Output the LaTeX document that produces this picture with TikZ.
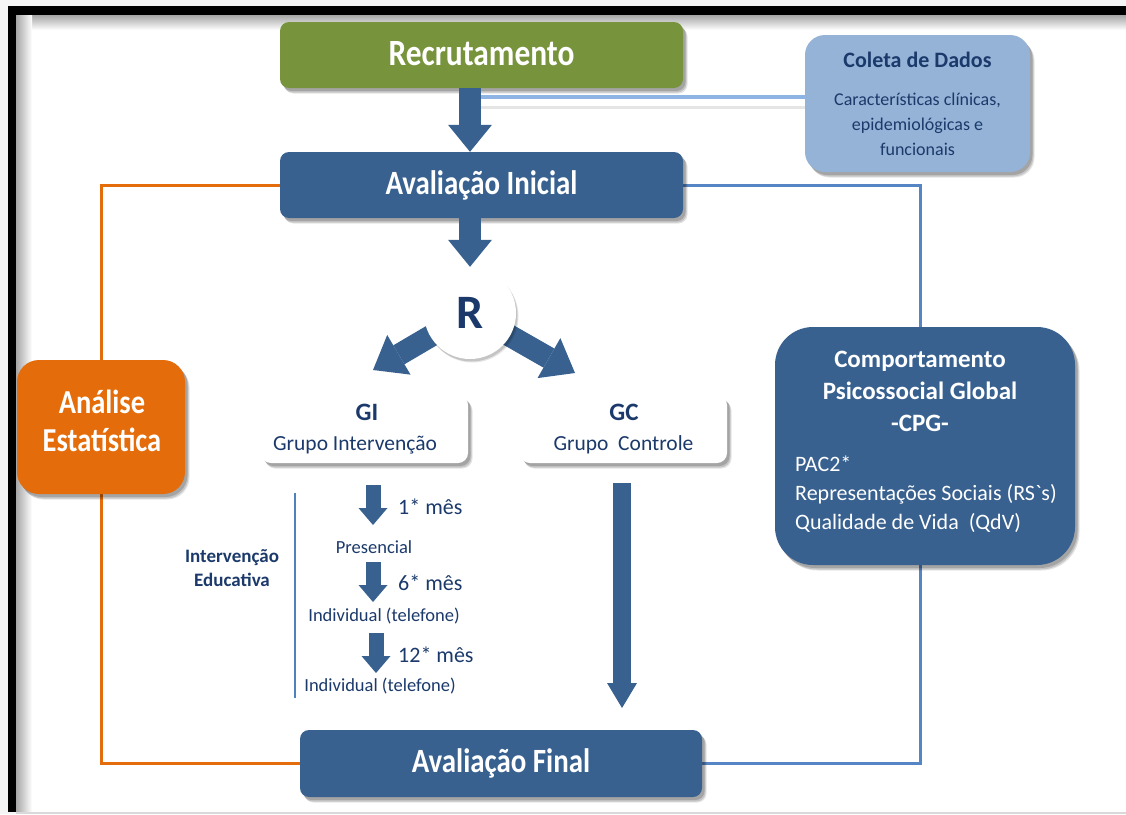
\documentclass[tikz,border=0pt]{standalone}
\usepackage{fontspec}
\setmainfont{Carlito}
\newfontfamily\titlefont{Carlito}[FakeStretch=0.85]
\usetikzlibrary{arrows.meta,shadows,calc}
\definecolor{green1}{HTML}{77933C}
\definecolor{dkblue}{HTML}{38618F}
\definecolor{ltblue}{HTML}{95B3D7}
\definecolor{orange1}{HTML}{E46C0A}
\definecolor{navy}{HTML}{1B3A6B}
\definecolor{lineblue}{HTML}{5585C5}
\definecolor{conblue}{HTML}{8EB4E3}
\definecolor{thinblue}{HTML}{4F81BD}
\pgfdeclarelayer{frame}
\pgfdeclarelayer{lines}
\pgfsetlayers{frame,lines,main}
\begin{document}
\begin{tikzpicture}[x=1pt,y=-1pt,
  softshadow/.style={drop shadow={shadow xshift=4.5pt, shadow yshift=-5.5pt, opacity=.10, fill=black},
                     drop shadow={shadow xshift=3.5pt, shadow yshift=-4.5pt, opacity=.14, fill=black},
                     drop shadow={shadow xshift=2.5pt, shadow yshift=-3pt, opacity=.16, fill=black}},
  boxbase/.style={inner sep=0pt, softshadow},
  darkbox/.style={boxbase, fill=dkblue, rounded corners=9pt, minimum width=403pt, minimum height=66pt, text=white, font=\titlefont\fontsize{34}{40}\selectfont\bfseries},
  blockarrow/.style={draw=dkblue, line width=22pt, -{Triangle[length=27pt, width=44pt, line width=0pt]}},
  diagarrow/.style={draw=dkblue, line width=22pt, -{Triangle[length=30pt, width=46pt, line width=0pt]}},
  smallarrow/.style={draw=dkblue, line width=15pt, -{Triangle[length=17pt, width=29pt, line width=0pt]}},
  gcarrow/.style={draw=dkblue, line width=18pt, -{Triangle[length=25pt, width=30pt, line width=0pt]}},
  lbl/.style={text=navy, inner sep=0pt, font=\fontsize{18.5}{22}\selectfont},
  mes/.style={text=navy, inner sep=0pt, font=\fontsize{22}{26}\selectfont},
  grp/.style={text=navy, inner sep=0pt, font=\fontsize{21.5}{26}\selectfont},
  grpt/.style={text=navy, inner sep=0pt, font=\fontsize{25}{30}\selectfont\bfseries},
]
\useasboundingbox (0,0) rectangle (1126,814);
\begin{pgfonlayer}{frame}
  \fill[gray!8] (0,0) rectangle (1126,814);
  \fill[white] (16,15) rectangle (1126,812);
  \shade[top color=gray!70, bottom color=white] (16,15) rectangle (1126,30);
  \shade[left color=gray!70, right color=white] (16,15) rectangle (32,812);
  \fill[black] (8,6) rectangle (1126,15);
  \fill[black] (8,6) rectangle (16,812);
  \fill[gray!30] (16,812) rectangle (1126,814);
\end{pgfonlayer}

% main boxes
\node[darkbox, fill=green1, font=\titlefont\fontsize{37}{42}\selectfont\bfseries] (rec) at (481.5,55) {\raisebox{3pt}{Recrutamento}};
\node[darkbox] (ini) at (481.5,185) {Avaliação Inicial};
\node[darkbox, minimum width=402pt, minimum height=67pt] (fin) at (501,763.5) {Avaliação Final};

\node[boxbase, fill=ltblue, rounded corners=20pt, minimum width=225pt, minimum height=137pt, text=navy, align=center, font=\fontsize{18}{25}\selectfont] (col) at (917.5,103.5)
  {{\fontsize{22}{25}\selectfont\bfseries Coleta de Dados}\\[13pt]Características clínicas,\\epidemiológicas e\\funcionais};

\node[boxbase, fill=orange1, rounded corners=22pt, minimum width=168pt, minimum height=134pt] (anl) at (101,427) {};
\node[text=white, align=center, inner sep=0pt, font=\titlefont\fontsize{33.5}{38}\selectfont\bfseries] (anlt) at (102,421) {Análise\\Estatística};

\node[boxbase, fill=dkblue, rounded corners=38pt, minimum width=300pt, minimum height=238pt] (cpg) at (925,446) {};
\node[text=white, align=center, inner sep=0pt, font=\fontsize{25}{32}\selectfont\bfseries] (cpgt) at (920,391) {Comportamento\\Psicossocial Global\\-CPG-};
\node[text=white, align=left, anchor=west, inner sep=0pt, font=\fontsize{22}{29}\selectfont] (cpgb) at (795,494) {PAC2*\\Representações\ Sociais (RS\textasciigrave s)\\Qualidade de Vida\ \ (QdV)};

\node[boxbase, fill=white, rounded corners=10pt, minimum width=207pt, minimum height=68pt] (gi) at (364.5,429) {};
\node[grpt] (git) at (367,412) {GI};
\node[grp] (gil) at (355,445) {Grupo Intervenção};
\node[boxbase, fill=white, rounded corners=10pt, minimum width=207pt, minimum height=68pt] (gc) at (623.5,429) {};
\node[grpt] (gct) at (624,412) {GC};
\node[grp] (gcl) at (623.5,445) {Grupo\ \ Controle};

% connectors behind
\coordinate (bx) at (920,0);
\coordinate (cj) at (481,97);
\begin{pgfonlayer}{lines}
  \draw[orange1, line width=3pt] (ini.west) -- (ini.west -| anl) -- (fin.west -| anl) -- (fin.west);
  \draw[lineblue, line width=3pt] (ini.east) -- (ini.east -| bx) -- (fin.east -| bx) -- (fin.east);
  \draw[gray!20, line width=3pt] ($(cj)+(0,10)$) -- ($(cj -| col.west)+(0,10)$);
  \draw[conblue, line width=4pt] (cj) -- (cj -| col.west);
\end{pgfonlayer}

% R and arrows
\coordinate (rc) at (470,313);
\coordinate (tipL) at (373,370);
\coordinate (tipR) at (575,373);
\draw[diagarrow] (rc) -- (tipL);
\draw[diagarrow] (rc) -- (tipR);
\node[circle, fill=white, minimum size=92pt, inner sep=0pt,
  drop shadow={shadow xshift=2.5pt, shadow yshift=-3.5pt, opacity=.10, fill=black},
  drop shadow={shadow xshift=1.5pt, shadow yshift=-2.5pt, opacity=.14, fill=black},
  text=navy, font=\fontsize{48}{48}\selectfont\bfseries] (r) at (rc) {R};
\draw[blockarrow] (rec.south -| r) -- (ini.north -| r);
\draw[blockarrow] (ini.south -| r) -- (r.north);

% intervention column
\coordinate (vt) at (295,493);
\coordinate (vb) at (295,698);
\draw[thinblue, line width=1.5pt] (vt) -- (vb);
\node[text=navy, align=center, inner sep=0pt, font=\fontsize{19}{24}\selectfont\bfseries] (ie) at (232,568) {Intervenção\\Educativa};

\coordinate (s1) at (373,485); \coordinate (e1) at (373,525);
\coordinate (s2) at (373,562); \coordinate (e2) at (373,602);
\coordinate (s3) at (376,633); \coordinate (e3) at (376,673);
\draw[smallarrow] (s1) -- (e1);
\draw[smallarrow] (s2) -- (e2);
\draw[smallarrow] (s3) -- (e3);
\node[mes, anchor=west] (m1) at (398,507) {1* mês};
\node[mes, anchor=west] (m2) at (398,583) {6* mês};
\node[mes, anchor=west] (m3) at (398,655) {12* mês};
\node[lbl] (p1) at (374,547) {Presencial};
\node[lbl] (p2) at (384,616) {Individual (telefone)};
\node[lbl] (p3) at (380,686) {Individual (telefone)};

% GC arrow
\coordinate (gs) at (622,483);
\coordinate (ge) at (622,708);
\draw[gcarrow] (gs) -- (ge);
\end{tikzpicture}
\end{document}
